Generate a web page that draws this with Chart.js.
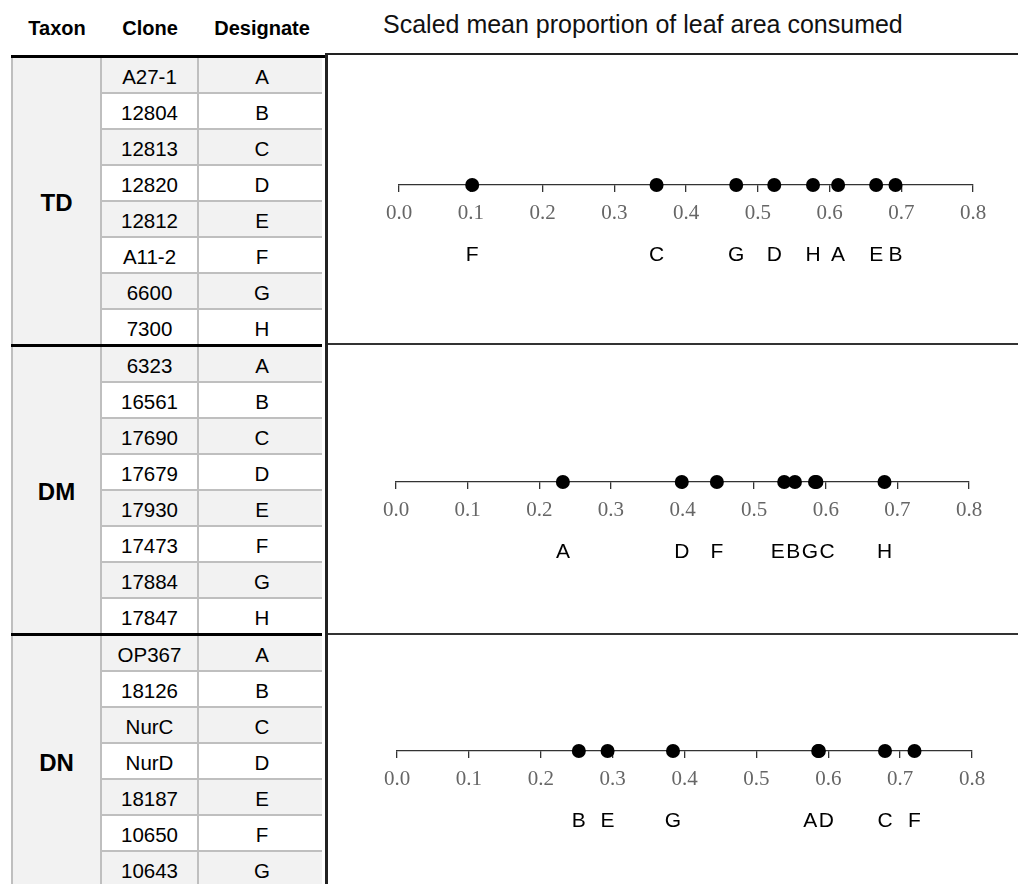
<!DOCTYPE html>
<html>
<head>
<meta charset="utf-8">
<title>Scaled mean proportion of leaf area consumed</title>
<script src="https://cdn.jsdelivr.net/npm/chart.js@4.4.1/dist/chart.umd.min.js"></script>
<style>
  html, body { margin: 0; padding: 0; background: #fff; }
  #page { position: relative; width: 1018px; height: 884px; overflow: hidden;
          font-family: "Liberation Sans", Arial, sans-serif; color: #000; }
  .box { position: absolute; }
  .hdr { position: absolute; top: 0; height: 56px; line-height: 56px; font-weight: bold;
         font-size: 20px; text-align: center; }
  .cell { position: absolute; height: 36px; line-height: 36px; font-size: 20.5px; text-align: center; }
  .taxon { position: absolute; font-weight: bold; font-size: 24px; text-align: center; line-height: 30px; }
  #axisTitle { position: absolute; left: 383px; top: 9px; font-size: 25px; line-height: 30px;
               white-space: nowrap; color: #111; }
  canvas { position: absolute; }
</style>
</head>
<body>
<div id="page"></div>
<script>
// ---- data ----
const headers = ['Taxon', 'Clone', 'Designate'];
const axisTitle = 'Scaled mean proportion of leaf area consumed';
const taxa = ['TD', 'DM', 'DN'];

const tdClones = ['A27-1', '12804', '12813', '12820', '12812', 'A11-2', '6600', '7300'];
const dmClones = ['6323', '16561', '17690', '17679', '17930', '17473', '17884', '17847'];
const dnClones = ['OP367', '18126', 'NurC', 'NurD', '18187', '10650', '10643'];

const tdDesignates = ['A', 'B', 'C', 'D', 'E', 'F', 'G', 'H'];
const dmDesignates = ['A', 'B', 'C', 'D', 'E', 'F', 'G', 'H'];
const dnDesignates = ['A', 'B', 'C', 'D', 'E', 'F', 'G'];

// scaled mean proportion of leaf area consumed, in designate order
const tdConsumed = [0.612, 0.692, 0.359, 0.523, 0.665, 0.102, 0.470, 0.577];
const dmConsumed = [0.233, 0.557, 0.587, 0.399, 0.542, 0.448, 0.585, 0.682];
const dnConsumed = [0.586, 0.253, 0.679, 0.587, 0.293, 0.720, 0.384];

const tickLabels = ['0.0', '0.1', '0.2', '0.3', '0.4', '0.5', '0.6', '0.7', '0.8'];

// ---- layout ----
const page = document.getElementById('page');
const ROW_H = 36;
const sectionTops = [57, 346, 635];
const groups = [
  { clones: tdClones, designates: tdDesignates, values: tdConsumed, axisY: 185, x0: 399, x8: 973 },
  { clones: dmClones, designates: dmDesignates, values: dmConsumed, axisY: 482, x0: 396, x8: 969 },
  { clones: dnClones, designates: dnDesignates, values: dnConsumed, axisY: 751, x0: 397, x8: 972 }
];

function box(x, y, w, h, color) {
  const d = document.createElement('div');
  d.className = 'box';
  d.style.left = x + 'px'; d.style.top = y + 'px';
  d.style.width = w + 'px'; d.style.height = h + 'px';
  d.style.background = color;
  page.appendChild(d);
  return d;
}
function text(cls, x, y, w, str) {
  const d = document.createElement('div');
  d.className = cls;
  d.style.left = x + 'px'; d.style.top = y + 'px'; d.style.width = w + 'px';
  d.textContent = str;
  page.appendChild(d);
  return d;
}

// header row
text('hdr', 7, 0, 100, headers[0]);
text('hdr', 100, 0, 100, headers[1]);
text('hdr', 199, 0, 126, headers[2]);
const t = document.createElement('div');
t.id = 'axisTitle'; t.textContent = axisTitle; page.appendChild(t);

const GRID = '#bfbfbf';
const SHADE = '#f2f2f2';

groups.forEach((g, s) => {
  const top = sectionTops[s];
  const n = g.clones.length;
  // taxon column background
  box(12, top, 89, n * ROW_H, SHADE);
  // alternating rows
  for (let i = 0; i < n; i++) {
    const y = top + i * ROW_H;
    box(101, y, 221, ROW_H, i % 2 === 0 ? SHADE : '#fff');
    text('cell', 101, y + 2, 97, g.clones[i]);
    text('cell', 199, y + 2, 126, g.designates[i]);
    if (i > 0) box(101, y - 1, 221, 2, GRID);
  }
  const mid = top + (n * ROW_H) / 2;
  text('taxon', 12, mid - 15 + 2, 89, taxa[s]);
});

// column rules
box(11, 57, 2, 827, GRID);
box(100, 57, 2, 827, GRID);
box(197, 57, 2, 827, GRID);
// heavy section rules
box(11, 55, 315, 3, '#000');
box(11, 344, 311, 3, '#000');
box(11, 633, 311, 3, '#000');
// plot panel frame
box(325, 53, 3, 831, '#222');
box(325, 53, 693, 2, '#222');
box(328, 343, 690, 2, '#333');
box(328, 633, 690, 2, '#333');

// ---- letters under the axis ----
const designateLetters = {
  id: 'designateLetters',
  afterDatasetsDraw(chart) {
    const ds = chart.data.datasets[0];
    const meta = chart.getDatasetMeta(0);
    const ctx = chart.ctx;
    const gap = 1.5;
    ctx.save();
    ctx.font = '21px "Liberation Sans", Arial, sans-serif';
    ctx.fillStyle = '#000';
    ctx.textAlign = 'center';
    ctx.textBaseline = 'middle';
    const items = meta.data.map((pt, i) => ({
      target: pt.x, w: ctx.measureText(ds.designates[i]).width, t: ds.designates[i]
    })).sort((a, b) => a.target - b.target);
    // merge labels that would collide and centre each cluster over its points
    let clusters = items.map(it => ({ items: [it], width: it.w, center: it.target }));
    let merged = true;
    while (merged) {
      merged = false;
      for (let k = 0; k < clusters.length - 1; k++) {
        const a = clusters[k], b = clusters[k + 1];
        if (a.center + a.width / 2 + gap > b.center - b.width / 2) {
          const its = a.items.concat(b.items);
          const width = its.reduce((s, it) => s + it.w, 0) + gap * (its.length - 1);
          const center = its.reduce((s, it) => s + it.target, 0) / its.length;
          clusters.splice(k, 2, { items: its, width, center });
          merged = true;
          break;
        }
      }
    }
    const y = chart.chartArea.bottom + 70;
    clusters.forEach(c => {
      let x = c.center - c.width / 2;
      c.items.forEach(it => {
        ctx.fillText(it.t, x + it.w / 2, y);
        x += it.w + gap;
      });
    });
    ctx.restore();
  }
};

// ---- one number-line chart per taxon ----
groups.forEach((g, s) => {
  const cv = document.createElement('canvas');
  const W = 688, H = 200;
  cv.width = W; cv.height = H;
  cv.style.left = '330px';
  cv.style.top = (g.axisY - 100) + 'px';
  cv.style.width = W + 'px'; cv.style.height = H + 'px';
  page.appendChild(cv);

  new Chart(cv, {
    type: 'scatter',
    data: {
      datasets: [{
        data: g.values.map(v => ({ x: v, y: 0 })),
        designates: g.designates,
        pointRadius: 7,
        pointHoverRadius: 7,
        pointBorderWidth: 0,
        backgroundColor: '#000',
        borderColor: '#000',
        clip: false
      }]
    },
    options: {
      responsive: false,
      animation: false,
      devicePixelRatio: 1,
      events: [],
      layout: { padding: { left: g.x0 - 330, right: 1018 - g.x8, top: 10, bottom: 0 } },
      plugins: { legend: { display: false }, tooltip: { enabled: false } },
      scales: {
        x: {
          type: 'linear',
          min: 0, max: 0.8,
          afterFit(scale) { scale.height = 100; },
          ticks: {
            stepSize: 0.1,
            autoSkip: false,
            maxRotation: 0,
            padding: 9,
            color: '#666',
            font: { family: '"Liberation Serif", "Times New Roman", serif', size: 21 },
            callback: (v, i) => tickLabels[i]
          },
          grid: { drawOnChartArea: false, drawTicks: true, tickLength: 7, color: '#333', lineWidth: 1.3 },
          border: { display: true, color: '#333', width: 1.3 }
        },
        y: { display: false, min: 0, max: 1 }
      }
    },
    plugins: [designateLetters]
  });
});
</script>
</body>
</html>
